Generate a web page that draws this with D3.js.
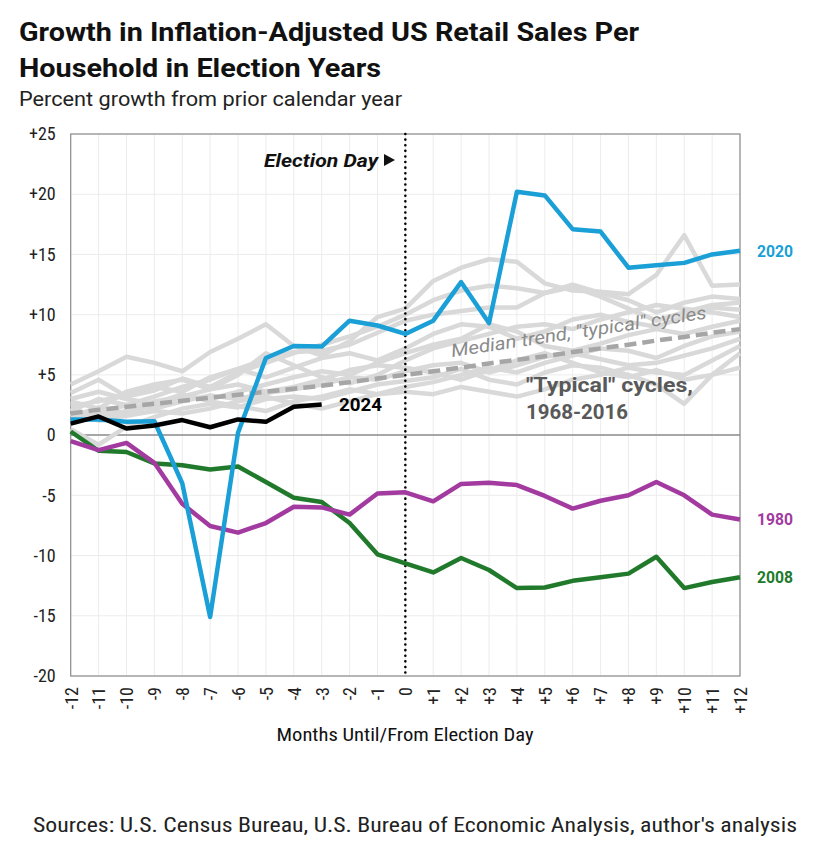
<!DOCTYPE html>
<html><head><meta charset="utf-8">
<script src="https://cdn.jsdelivr.net/npm/d3@7"></script>
<style>
body{margin:0;background:#fff;}
svg{display:block;}
</style></head>
<body>
<svg id="chart" width="820" height="846"></svg>
<script>
// ---------- data ----------
const months = d3.range(-12, 13);
const yTicks = [-20, -15, -10, -5, 0, 5, 10, 15, 20, 25];
const xTickLabels = months.map(m => m > 0 ? "+" + m : String(m));
const yTickLabels = yTicks.map(v => v > 0 ? "+" + v : String(v));

const s2020 = [1.3,1.3,1.1,1.15,-4.0,-15.1,0.2,6.4,7.4,7.35,9.5,9.1,8.4,9.5,12.7,9.3,20.2,19.9,17.1,16.9,13.9,14.1,14.3,15.0,15.3];
const s1980 = [-0.5,-1.25,-0.65,-2.3,-5.7,-7.55,-8.1,-7.3,-5.95,-6.0,-6.6,-4.85,-4.75,-5.5,-4.05,-3.95,-4.15,-5.05,-6.1,-5.45,-5.0,-3.9,-5.0,-6.6,-7.0];
const s2008 = [0.3,-1.3,-1.4,-2.35,-2.5,-2.85,-2.6,-3.9,-5.2,-5.55,-7.3,-9.9,-10.65,-11.4,-10.2,-11.2,-12.7,-12.65,-12.1,-11.8,-11.5,-10.1,-12.7,-12.2,-11.8];
const s2024 = [0.95,1.55,0.55,0.8,1.25,0.65,1.3,1.1,2.35,2.55];
const median = [1.8,2.1,2.35,2.6,2.85,3.1,3.35,3.6,3.85,4.1,4.4,4.7,5.0,5.3,5.6,5.95,6.25,6.55,6.9,7.2,7.5,7.85,8.15,8.5,8.8];
const typical = [
  [4.2,5.3,6.5,6.0,5.3,6.9,8.0,9.2,7.4,6.6,7.8,9.8,10.5,12.8,13.9,14.6,14.4,12.6,12.0,11.9,11.7,13.3,16.6,12.4,12.5],
  [3.5,4.6,3.2,3.7,4.7,4.0,5.2,6.0,6.8,7.5,8.2,9.0,10.0,11.2,12.0,12.4,12.2,11.8,12.5,11.8,11.2,10.2,11.0,11.5,11.3],
  [2.0,3.0,2.5,3.2,4.0,4.6,5.5,6.3,6.9,7.0,7.5,8.5,9.5,10.0,10.3,10.6,10.6,11.8,12.3,11.5,10.5,9.5,10.2,10.8,11.0],
  [2.8,2.2,3.6,4.2,4.6,3.8,5.0,6.8,5.8,4.8,4.3,5.0,6.2,7.2,7.8,8.4,9.0,9.2,8.8,9.6,10.2,10.8,10.5,10.2,9.8],
  [1.5,2.3,1.8,2.5,3.2,3.0,3.6,4.2,4.8,5.3,5.0,6.0,6.8,7.5,8.0,9.2,8.6,7.4,7.0,7.6,8.3,8.8,8.4,9.0,9.5],
  [1.0,1.8,2.5,2.2,2.8,3.3,3.0,3.5,3.8,4.2,4.8,4.6,5.3,5.8,6.0,5.2,5.8,6.5,6.8,6.3,5.8,6.0,6.6,7.2,8.0],
  [0.5,-0.8,0.7,1.5,2.2,2.6,2.3,3.0,3.2,3.0,3.6,4.2,4.5,4.8,5.5,4.6,4.2,5.2,5.8,5.6,5.0,4.2,2.6,5.0,6.8],
  [2.2,1.5,2.0,2.8,3.2,3.8,4.2,3.6,4.0,4.6,5.4,5.8,5.6,5.2,4.6,5.4,6.2,6.8,6.0,5.2,4.8,5.4,4.6,5.0,5.6],
  [3.0,3.6,3.0,2.6,3.4,2.8,2.4,2.0,2.8,3.2,3.8,3.4,4.0,4.4,5.0,5.6,5.2,6.0,6.6,7.2,7.0,6.4,7.4,8.2,8.6],
  [1.8,1.2,1.6,2.0,1.8,2.2,2.8,3.2,2.6,2.2,2.8,3.4,3.6,3.4,4.0,3.6,3.2,3.8,4.6,5.0,5.6,5.2,5.0,6.2,7.4],
  [2.4,2.8,3.4,4.0,3.6,4.8,5.5,4.8,5.6,6.4,6.8,6.2,7.2,8.4,9.2,9.0,8.0,8.6,9.6,10.0,9.4,9.0,9.8,10.6,10.4]
];

// ---------- setup ----------
const svg = d3.select("#chart");
const W = 820, H = 846;
const pLeft = 70.7, pRight = 740, pTop = 134, pBottom = 676;
const x = d3.scaleLinear().domain([-12, 12]).range([pLeft, pRight]);
const y = d3.scaleLinear().domain([-20, 25]).range([pBottom, pTop]);
const narrow = "'Liberation Sans Narrow','Roboto Condensed','Arial Narrow',sans-serif";
const sans = "Roboto,'Open Sans',sans-serif";

svg.append("rect").attr("width", W).attr("height", H).attr("fill", "#fff");

// titles
svg.append("text").attr("x", 19).attr("y", 41)
  .attr("font-family", sans).attr("font-weight", 700).attr("font-size", 25.5)
  .attr("fill", "#111").attr("textLength", 620).attr("lengthAdjust", "spacingAndGlyphs")
  .text("Growth in Inflation-Adjusted US Retail Sales Per");
svg.append("text").attr("x", 19).attr("y", 77)
  .attr("font-family", sans).attr("font-weight", 700).attr("font-size", 25.5)
  .attr("fill", "#111").attr("textLength", 362).attr("lengthAdjust", "spacingAndGlyphs")
  .text("Household in Election Years");
svg.append("text").attr("x", 19).attr("y", 106)
  .attr("font-family", sans).attr("font-weight", 400).attr("font-size", 20)
  .attr("fill", "#222").attr("textLength", 383).attr("lengthAdjust", "spacingAndGlyphs")
  .text("Percent growth from prior calendar year");

// gridlines
const grid = svg.append("g");
grid.selectAll("line.v").data(months).join("line")
  .attr("x1", d => x(d)).attr("x2", d => x(d)).attr("y1", pTop).attr("y2", pBottom)
  .attr("stroke", "#ececec").attr("stroke-width", 1);
grid.selectAll("line.h").data(yTicks).join("line")
  .attr("x1", pLeft).attr("x2", pRight).attr("y1", d => y(d)).attr("y2", d => y(d))
  .attr("stroke", "#ececec").attr("stroke-width", 1);

// y axis
const yAxis = d3.axisLeft(y).tickValues(yTicks).tickSize(0).tickPadding(15)
  .tickFormat((d, i) => yTickLabels[i]);
const gy = svg.append("g").attr("transform", `translate(${pLeft},0)`).call(yAxis);
gy.select(".domain").remove();
gy.selectAll("text").attr("font-family", narrow).attr("font-size", 18).attr("fill", "#222");

// x axis
const xAxis = d3.axisBottom(x).tickValues(months).tickSize(0).tickFormat((d, i) => xTickLabels[i]);
const gx = svg.append("g").attr("transform", `translate(0,${pBottom})`).call(xAxis);
gx.select(".domain").remove();
gx.selectAll("text")
  .attr("font-family", narrow).attr("font-size", 18).attr("fill", "#222")
  .attr("transform", "rotate(-90)").attr("text-anchor", "end")
  .attr("x", -11).attr("y", 0).attr("dy", "0.35em");

svg.append("text").attr("x", 405).attr("y", 741).attr("text-anchor", "middle")
  .attr("font-family", narrow).attr("font-size", 19).attr("fill", "#111")
  .attr("textLength", 257).attr("lengthAdjust", "spacingAndGlyphs")
  .text("Months Until/From Election Day");

// frame
svg.append("rect").attr("x", pLeft).attr("y", pTop).attr("width", pRight - pLeft).attr("height", pBottom - pTop)
  .attr("fill", "none").attr("stroke", "#8c8c8c").attr("stroke-width", 1.2);
// zero line
svg.append("line").attr("x1", pLeft).attr("x2", pRight).attr("y1", y(0)).attr("y2", y(0))
  .attr("stroke", "#8c8c8c").attr("stroke-width", 1.5);

const line = d3.line().x((d, i) => x(months[i])).y(d => y(d));

// typical cycles
svg.append("g").selectAll("path").data(typical).join("path")
  .attr("d", line).attr("fill", "none").attr("stroke", "#d9d9d9")
  .attr("stroke-width", 4.5).attr("stroke-linejoin", "round");

// median dashed
svg.append("path").datum(median).attr("d", line).attr("fill", "none")
  .attr("stroke", "#a6a6a6").attr("stroke-width", 4.5).attr("stroke-dasharray", "12 6");

// election day dotted
svg.append("line").attr("x1", x(0)).attr("x2", x(0)).attr("y1", pTop).attr("y2", pBottom)
  .attr("stroke", "#000").attr("stroke-width", 2.6).attr("stroke-linecap", "round")
  .attr("stroke-dasharray", "0.01 5.6");

// median label
const ang = Math.atan2(y(median[24]) - y(median[12]), x(12) - x(0)) * 180 / Math.PI;
svg.append("text").attr("transform", `translate(452,357) rotate(${ang - 0.8})`)
  .attr("font-family", sans).attr("font-style", "italic").attr("font-size", 18)
  .attr("fill", "#8a8a8a").attr("textLength", 258).attr("lengthAdjust", "spacingAndGlyphs")
  .text('Median trend, "typical" cycles');

// typical label
svg.append("text").attr("x", 526).attr("y", 392)
  .attr("font-family", sans).attr("font-weight", 700).attr("font-size", 20.5).attr("fill", "#595959")
  .attr("textLength", 167).attr("lengthAdjust", "spacingAndGlyphs").text('"Typical" cycles,');
svg.append("text").attr("x", 526).attr("y", 419)
  .attr("font-family", sans).attr("font-weight", 700).attr("font-size", 20.5).attr("fill", "#595959")
  .attr("textLength", 102).attr("lengthAdjust", "spacingAndGlyphs").text("1968-2016");

// colored series
const series = [
  {d: s2008, c: "#217a2c"},
  {d: s1980, c: "#a23aa0"},
  {d: s2020, c: "#1a9fd6"},
  {d: s2024, c: "#000000"}
];
svg.append("g").selectAll("path").data(series).join("path")
  .attr("d", s => line(s.d)).attr("fill", "none").attr("stroke", s => s.c)
  .attr("stroke-width", 4.5).attr("stroke-linejoin", "round");

// series labels
const lab = [
  {t: "2020", v: s2020[24], c: "#1a9fd6", xx: 757, w: 36},
  {t: "1980", v: s1980[24], c: "#a23aa0", xx: 757, w: 36},
  {t: "2008", v: s2008[24], c: "#217a2c", xx: 757, w: 36},
  {t: "2024", v: s2024[9], c: "#000", xx: 339, w: 43}
];
svg.append("g").selectAll("text").data(lab).join("text")
  .attr("x", d => d.xx).attr("y", d => y(d.v)).attr("dy", "0.36em")
  .attr("font-family", sans).attr("font-weight", 700)
  .attr("font-size", d => d.t === "2024" ? 18 : 16.5)
  .attr("textLength", d => d.w).attr("lengthAdjust", "spacingAndGlyphs")
  .attr("fill", d => d.c).text(d => d.t);

// election day label
svg.append("text").attr("x", 264).attr("y", 167)
  .attr("font-family", sans).attr("font-weight", 700).attr("font-style", "italic")
  .attr("font-size", 19).attr("fill", "#111")
  .attr("textLength", 114).attr("lengthAdjust", "spacingAndGlyphs").text("Election Day");
svg.append("path").attr("d", "M384,154 L395,160 L384,166 Z").attr("fill", "#111");

// sources
svg.append("text").attr("x", 33).attr("y", 832)
  .attr("font-family", narrow).attr("font-size", 19.5).attr("fill", "#222")
  .attr("textLength", 764).attr("lengthAdjust", "spacingAndGlyphs")
  .text("Sources: U.S. Census Bureau, U.S. Bureau of Economic Analysis, author's analysis");
</script>
</body></html>
